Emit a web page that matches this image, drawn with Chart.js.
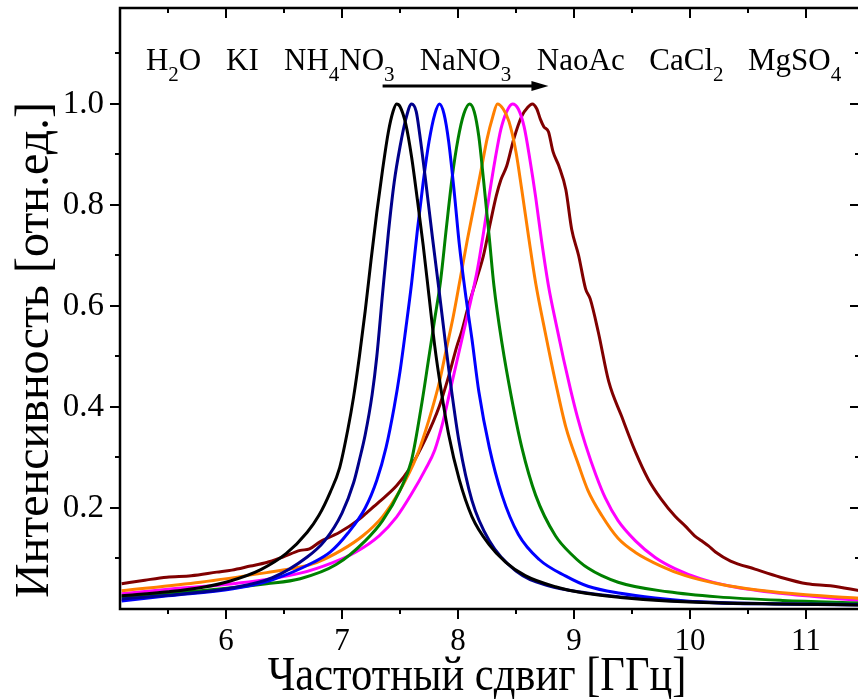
<!DOCTYPE html>
<html>
<head>
<meta charset="utf-8">
<script src="https://cdn.jsdelivr.net/npm/chart.js@4.4.1/dist/chart.umd.min.js"></script>
<style>
  html, body { margin: 0; padding: 0; background: #fff; overflow: hidden; }
  #wrap { width: 862px; height: 699px; }
</style>
</head>
<body>
<div id="wrap"><canvas id="chart" width="862" height="699"></canvas></div>
<script>
// Brillouin-like peaks, frequency shift (GHz) vs normalised intensity

const blackX = [5.1, 5.5, 5.8, 6.03, 6.3, 6.52, 6.7, 6.8, 6.9, 6.98, 7.05, 7.1, 7.15, 7.2, 7.25, 7.3, 7.35, 7.4, 7.44, 7.47, 7.5, 7.55, 7.6, 7.65, 7.7, 7.75, 7.8, 7.85, 7.92, 8.01, 8.12, 8.27, 8.41, 8.58, 8.84, 9.1, 9.4, 9.8, 10.25, 10.8, 11.47];
const blackY = [0.026, 0.034, 0.043, 0.055, 0.078, 0.110, 0.152, 0.185, 0.232, 0.28, 0.355, 0.42, 0.50, 0.59, 0.69, 0.785, 0.87, 0.945, 0.985, 1.0, 0.995, 0.96, 0.895, 0.81, 0.72, 0.62, 0.52, 0.44, 0.345, 0.257, 0.183, 0.127, 0.093, 0.066, 0.044, 0.031, 0.023, 0.016, 0.012, 0.010, 0.008];

const navyX = [5.1, 5.5, 6.06, 6.4, 6.7, 6.85, 7.0, 7.1, 7.15, 7.2, 7.26, 7.3, 7.35, 7.4, 7.45, 7.5, 7.55, 7.6, 7.64, 7.67, 7.72, 7.78, 7.84, 7.89, 7.94, 8.01, 8.12, 8.27, 8.5, 8.78, 9.1, 9.4, 9.8, 10.25, 10.8, 11.47];
const navyY = [0.020, 0.027, 0.042, 0.062, 0.103, 0.135, 0.19, 0.25, 0.295, 0.345, 0.425, 0.50, 0.625, 0.745, 0.845, 0.915, 0.97, 1.0, 0.985, 0.94, 0.85, 0.735, 0.625, 0.53, 0.44, 0.33, 0.215, 0.135, 0.075, 0.046, 0.032, 0.024, 0.017, 0.013, 0.010, 0.008];

const blueX = [5.1, 5.5, 6.06, 6.4, 6.75, 6.9, 7.05, 7.2, 7.3, 7.38, 7.45, 7.5, 7.55, 7.6, 7.65, 7.7, 7.75, 7.8, 7.84, 7.88, 7.92, 7.97, 8.01, 8.07, 8.12, 8.18, 8.27, 8.38, 8.52, 8.7, 8.93, 9.12, 9.4, 9.7, 10.25, 10.8, 11.47];
const blueY = [0.016, 0.026, 0.040, 0.058, 0.092, 0.113, 0.150, 0.20, 0.255, 0.32, 0.40, 0.47, 0.555, 0.645, 0.75, 0.845, 0.925, 0.98, 1.0, 0.98, 0.925, 0.82, 0.725, 0.615, 0.535, 0.43, 0.32, 0.225, 0.148, 0.098, 0.065, 0.045, 0.031, 0.022, 0.012, 0.010, 0.009];

const greenX = [5.1, 5.78, 6.35, 6.64, 6.95, 7.2, 7.35, 7.5, 7.6, 7.69, 7.75, 7.8, 7.85, 7.9, 7.95, 8.0, 8.05, 8.1, 8.14, 8.18, 8.22, 8.27, 8.31, 8.38, 8.46, 8.55, 8.67, 8.84, 8.98, 9.12, 9.38, 9.81, 10.24, 10.8, 11.47];
const greenY = [0.024, 0.036, 0.050, 0.060, 0.088, 0.135, 0.175, 0.235, 0.295, 0.41, 0.50, 0.575, 0.65, 0.755, 0.855, 0.93, 0.98, 1.0, 0.985, 0.935, 0.85, 0.735, 0.64, 0.525, 0.42, 0.32, 0.225, 0.145, 0.108, 0.081, 0.053, 0.034, 0.024, 0.017, 0.012];

const orangeX = [5.1, 5.78, 6.35, 6.64, 6.78, 7.0, 7.18, 7.35, 7.5, 7.64, 7.75, 7.84, 7.9, 7.96, 8.02, 8.08, 8.14, 8.2, 8.25, 8.3, 8.34, 8.39, 8.44, 8.5, 8.55, 8.61, 8.67, 8.75, 8.84, 8.93, 9.04, 9.12, 9.24, 9.38, 9.53, 9.75, 9.96, 10.24, 10.6, 11.0, 11.47];
const orangeY = [0.036, 0.053, 0.072, 0.083, 0.092, 0.117, 0.145, 0.183, 0.235, 0.30, 0.375, 0.45, 0.515, 0.58, 0.655, 0.73, 0.80, 0.87, 0.93, 0.975, 1.0, 0.99, 0.965, 0.905, 0.83, 0.735, 0.645, 0.55, 0.45, 0.36, 0.285, 0.235, 0.185, 0.14, 0.112, 0.085, 0.066, 0.050, 0.037, 0.028, 0.021];

const magentaX = [5.1, 5.5, 6.06, 6.64, 6.92, 7.12, 7.32, 7.47, 7.6, 7.72, 7.8, 7.87, 7.93, 7.99, 8.05, 8.11, 8.17, 8.22, 8.27, 8.32, 8.37, 8.42, 8.47, 8.52, 8.57, 8.62, 8.67, 8.72, 8.78, 8.85, 8.91, 8.97, 9.03, 9.1, 9.19, 9.27, 9.38, 9.53, 9.7, 9.87, 10.09, 10.35, 10.78, 11.47];
const magentaY = [0.030, 0.039, 0.050, 0.071, 0.092, 0.113, 0.145, 0.182, 0.228, 0.277, 0.315, 0.37, 0.43, 0.49, 0.55, 0.61, 0.675, 0.745, 0.82, 0.89, 0.95, 0.985, 1.0, 0.99, 0.955, 0.89, 0.815, 0.73, 0.64, 0.56, 0.495, 0.435, 0.38, 0.325, 0.265, 0.22, 0.175, 0.135, 0.102, 0.080, 0.060, 0.045, 0.031, 0.017];

const brownX = [5.1, 5.3, 5.49, 5.7, 5.92, 6.05, 6.21, 6.35, 6.49, 6.64, 6.72, 6.81, 6.92, 6.98, 7.15, 7.21, 7.32, 7.47, 7.58, 7.72, 7.84, 7.92, 7.99, 8.03, 8.09, 8.16, 8.22, 8.28, 8.33, 8.37, 8.42, 8.48, 8.55, 8.6, 8.64, 8.68, 8.71, 8.74, 8.78, 8.82, 8.87, 8.93, 8.98, 9.04, 9.1, 9.14, 9.21, 9.3, 9.41, 9.53, 9.64, 9.75, 9.87, 9.96, 10.04, 10.1, 10.16, 10.22, 10.35, 10.56, 10.78, 11.01, 11.21, 11.47];
const brownY = [0.050, 0.057, 0.063, 0.066, 0.073, 0.077, 0.085, 0.092, 0.103, 0.116, 0.119, 0.133, 0.145, 0.152, 0.178, 0.190, 0.212, 0.244, 0.277, 0.337, 0.402, 0.461, 0.52, 0.548, 0.60, 0.653, 0.70, 0.766, 0.818, 0.85, 0.877, 0.93, 0.976, 0.993, 1.0, 0.99, 0.97, 0.955, 0.945, 0.905, 0.877, 0.83, 0.752, 0.70, 0.634, 0.614, 0.548, 0.45, 0.382, 0.311, 0.257, 0.218, 0.184, 0.164, 0.145, 0.135, 0.125, 0.113, 0.095, 0.079, 0.063, 0.050, 0.046, 0.036];

const xTicks = [6, 7, 8, 9, 10, 11];
const xMinorTicks = [5.5, 6.5, 7.5, 8.5, 9.5, 10.5];
const yTicks = [0.2, 0.4, 0.6, 0.8, 1.0];
const yMinorTicks = [0.1, 0.3, 0.5, 0.7, 0.9, 1.1];

// salt names along the top ("_d" = subscript) and where each one starts
const saltNames = ['H_2O', 'KI', 'NH_4NO_3', 'NaNO_3', 'NaoAc', 'CaCl_2', 'MgSO_4'];
const saltNameX = [5.31, 6.0, 6.5, 7.67, 8.68, 9.65, 10.5];
const saltNameY = 1.067;
const arrowFrom = 7.35, arrowTo = 8.78, arrowY = 1.036;

const FONT = '"Liberation Serif", "Times New Roman", serif';

function points(xs, ys) {
  return xs.map((x, i) => ({ x: x, y: ys[i] }));
}

function series(xs, ys, color) {
  return {
    data: points(xs, ys),
    borderColor: color,
    borderWidth: 3,
    pointRadius: 0,
    cubicInterpolationMode: 'monotone',
    fill: false
  };
}

// frame, ticks on all four sides, salt names, arrow and axis titles
const decorations = {
  id: 'decorations',
  afterDatasetsDraw(chart) {
    const { ctx, chartArea: a, scales: { x, y } } = chart;
    ctx.save();
    ctx.strokeStyle = '#000';
    ctx.fillStyle = '#000';
    ctx.lineWidth = 2.5;
    ctx.strokeRect(a.left, a.top, a.right - a.left, a.bottom - a.top);

    ctx.lineWidth = 2;
    ctx.beginPath();
    const xt = (v, len) => {
      const px = Math.round(x.getPixelForValue(v));
      ctx.moveTo(px, a.bottom); ctx.lineTo(px, a.bottom + len);
      ctx.moveTo(px, a.top); ctx.lineTo(px, a.top + len);
    };
    const yt = (v, len) => {
      const py = Math.round(y.getPixelForValue(v));
      ctx.moveTo(a.left, py); ctx.lineTo(a.left - len, py);
      ctx.moveTo(a.right, py); ctx.lineTo(a.right - len, py);
    };
    xTicks.forEach(v => xt(v, 10));
    xMinorTicks.forEach(v => xt(v, 5));
    yTicks.forEach(v => yt(v, 10));
    yMinorTicks.forEach(v => yt(v, 5));
    ctx.stroke();

    // salt names
    ctx.textBaseline = 'alphabetic';
    ctx.textAlign = 'left';
    const by = y.getPixelForValue(saltNameY);
    saltNames.forEach((name, i) => {
      let px = x.getPixelForValue(saltNameX[i]);
      name.split(/(_\d)/).forEach(part => {
        if (!part) return;
        if (part[0] === '_') {
          ctx.font = '21px ' + FONT;
          ctx.fillText(part[1], px, by + 11);
          px += ctx.measureText(part[1]).width;
        } else {
          ctx.font = '31px ' + FONT;
          ctx.fillText(part, px, by);
          px += ctx.measureText(part).width;
        }
      });
    });

    // arrow
    const ay = Math.round(y.getPixelForValue(arrowY));
    const ax0 = x.getPixelForValue(arrowFrom);
    const ax1 = x.getPixelForValue(arrowTo);
    ctx.lineWidth = 3;
    ctx.beginPath();
    ctx.moveTo(ax0, ay); ctx.lineTo(ax1 - 10, ay);
    ctx.stroke();
    ctx.beginPath();
    ctx.moveTo(ax1, ay);
    ctx.lineTo(ax1 - 17, ay - 5);
    ctx.lineTo(ax1 - 17, ay + 5);
    ctx.closePath();
    ctx.fill();

    // axis titles (the x one is a little condensed in the original)
    ctx.font = '48px ' + FONT;
    ctx.textAlign = 'center';
    ctx.save();
    ctx.translate(477, 690);
    ctx.scale(0.885, 1);
    ctx.fillText('Частотный сдвиг [ГГц]', 0, 0);
    ctx.restore();
    ctx.translate(48, 350);
    ctx.rotate(-Math.PI / 2);
    ctx.fillText('Интенсивность [отн.ед.]', 0, 0);
    ctx.restore();
  }
};

const tickFont = { family: FONT, size: 33 };

new Chart(document.getElementById('chart'), {
  type: 'line',
  data: {
    datasets: [
      series(blackX, blackY, '#000000'),
      series(navyX, navyY, '#00008b'),
      series(blueX, blueY, '#0000ff'),
      series(greenX, greenY, '#008000'),
      series(orangeX, orangeY, '#ff8000'),
      series(magentaX, magentaY, '#ff00ff'),
      series(brownX, brownY, '#800000')
    ]
  },
  options: {
    responsive: false,
    animation: false,
    events: [],
    layout: { padding: { top: 8, right: 2, left: 0, bottom: 0 } },
    plugins: { legend: { display: false }, tooltip: { enabled: false } },
    scales: {
      x: {
        type: 'linear',
        min: 5.086,
        max: 11.466,
        afterFit: s => { s.height = 90; s.paddingLeft = 0; s.paddingRight = 0; },
        grid: { display: false, drawTicks: false },
        border: { display: false },
        ticks: {
          stepSize: 1,
          includeBounds: false,
          autoSkip: false,
          maxRotation: 0,
          padding: 14,
          color: '#000',
          font: { family: FONT, size: 31 },
          callback: v => xTicks.includes(v) ? String(v) : ''
        }
      },
      y: {
        min: 0,
        max: 1.19,
        afterFit: s => { s.width = 120; s.paddingTop = 0; s.paddingBottom = 0; },
        grid: { display: false, drawTicks: false },
        border: { display: false },
        ticks: {
          stepSize: 0.2,
          includeBounds: false,
          padding: 16,
          color: '#000',
          font: tickFont,
          callback: v => v > 0.01 ? v.toFixed(1) : ''
        }
      }
    }
  },
  plugins: [decorations]
});
</script>
</body>
</html>
